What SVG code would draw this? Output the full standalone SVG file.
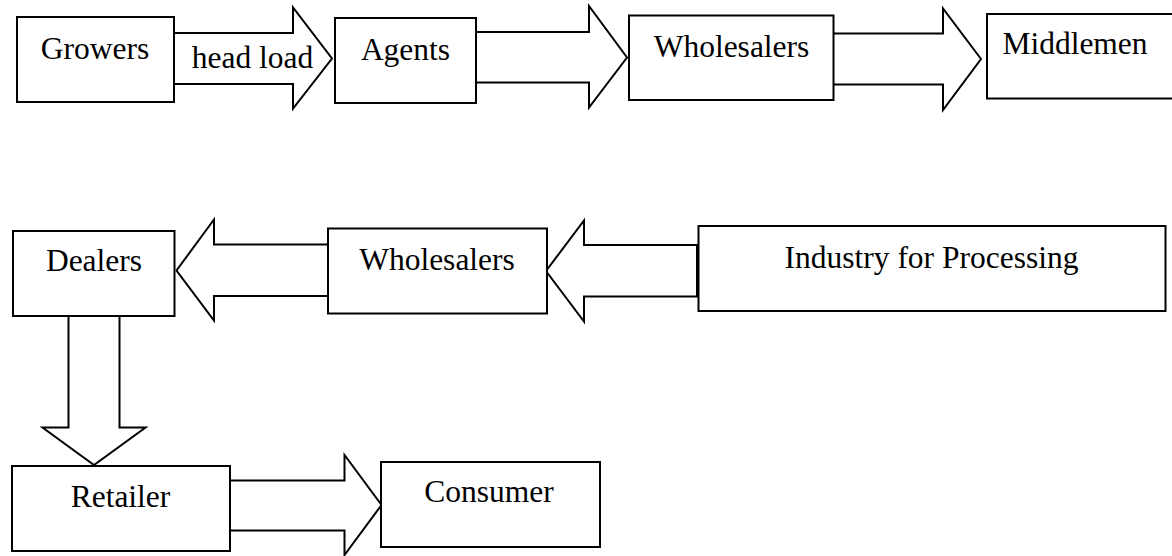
<svg xmlns="http://www.w3.org/2000/svg" width="1172" height="556" viewBox="0 0 1172 556">
  <style>
    .box { fill: #ffffff; stroke: #000000; stroke-width: 2; }
    .arrow { fill: #ffffff; stroke: #000000; stroke-width: 2; stroke-linejoin: miter; }
    .label { font-family: "Liberation Serif", "Times New Roman", serif; font-size: 31.5px; fill: #000000; text-anchor: middle; }
  </style>
  <rect width="1172" height="556" fill="#ffffff"/>

  <!-- block arrows between stages -->
  <g id="connectors">
    <polygon class="arrow" points="174,33 293,33 293,7.5 332,58.5 293,108.5 293,84 174,84"/>
    <text class="label" x="252.5" y="68">head load</text>
    <polygon class="arrow" points="476,32 589,32 589,6 627,57.5 589,107.5 589,82.5 476,82.5"/>
    <polygon class="arrow" points="833,33.5 943,33.5 943,8.5 981,59 943,110 943,84.5 833,84.5"/>
    <polygon class="arrow" points="328,244.5 214,244.5 214,219.5 176.5,270.5 214,320.5 214,296 328,296"/>
    <polygon class="arrow" points="697,245 584,245 584,220.5 546,271 584,321.5 584,296.5 697,296.5"/>
    <polygon class="arrow" points="68.5,316 119.5,316 119.5,427.5 145.5,427.5 94,465 42.5,427.5 68.5,427.5"/>
    <polygon class="arrow" points="230,480.5 344.5,480.5 344.5,455 381.5,505 344.5,555 344.5,530.5 230,530.5"/>
  </g>

  <!-- top row -->
  <g id="growers">
    <rect class="box" x="17" y="17" width="157" height="85"/>
    <text class="label" x="95" y="58.5">Growers</text>
  </g>
  <g id="agents">
    <rect class="box" x="335" y="18" width="141" height="85"/>
    <text class="label" x="405.5" y="59.5">Agents</text>
  </g>
  <g id="wholesalers-top">
    <rect class="box" x="629" y="15.5" width="204.5" height="84.5"/>
    <text class="label" x="731.5" y="56.5">Wholesalers</text>
  </g>
  <g id="middlemen">
    <rect class="box" x="987" y="14" width="200" height="84.5"/>
    <text class="label" x="1075" y="53.5">Middlemen</text>
  </g>

  <!-- middle row -->
  <g id="dealers">
    <rect class="box" x="13" y="231" width="161.5" height="85"/>
    <text class="label" x="94" y="271">Dealers</text>
  </g>
  <g id="wholesalers-mid">
    <rect class="box" x="328" y="228.5" width="219" height="85"/>
    <text class="label" x="437" y="269.5">Wholesalers</text>
  </g>
  <g id="industry">
    <rect class="box" x="698.5" y="226" width="467" height="85"/>
    <text class="label" x="931.5" y="267.5">Industry for Processing</text>
  </g>

  <!-- bottom row -->
  <g id="retailer">
    <rect class="box" x="12" y="466" width="218" height="85"/>
    <text class="label" x="120.5" y="506.5">Retailer</text>
  </g>
  <g id="consumer">
    <rect class="box" x="381" y="462" width="219" height="85"/>
    <text class="label" x="489" y="501.5">Consumer</text>
  </g>
</svg>
